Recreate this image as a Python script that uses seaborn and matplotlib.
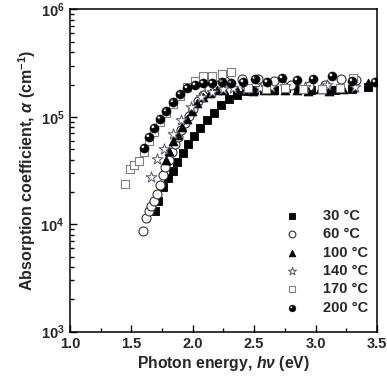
import numpy as np
import pandas as pd
import matplotlib
matplotlib.use("Agg")
import matplotlib.pyplot as plt
import seaborn as sns
from matplotlib.path import Path
from matplotlib.ticker import MultipleLocator, LogLocator, NullFormatter

# ---------------- data ----------------
e30 = [1.69, 1.72, 1.76, 1.795, 1.836, 1.874, 1.918, 1.963, 2.01, 2.061, 2.113, 2.17,
       2.23, 2.292, 2.357, 2.43, 2.50, 2.58, 2.66, 2.76, 2.86, 2.96, 3.06, 3.16, 3.30, 3.43]
a30 = [1.32e4, 1.65e4, 2.22e4, 2.72e4, 3.16e4, 3.78e4, 4.58e4, 5.56e4, 6.6e4, 7.9e4, 9.4e4, 1.09e5,
       1.28e5, 1.48e5, 1.61e5, 1.75e5, 1.78e5, 1.80e5, 1.78e5, 1.85e5, 1.80e5, 1.78e5, 1.80e5, 1.78e5, 1.82e5, 1.88e5]

e60 = [1.597, 1.619, 1.643, 1.662, 1.687, 1.708, 1.73, 1.755, 1.776, 1.808, 1.83, 1.855, 1.88,
       1.904, 1.936, 1.969, 2.0, 2.04, 2.083, 2.13, 2.19, 2.26, 2.40, 2.53, 2.66, 2.80, 2.95,
       3.08, 3.21, 3.33]
a60 = [8.6e3, 1.14e4, 1.34e4, 1.48e4, 1.65e4, 1.93e4, 2.34e4, 2.88e4, 3.44e4, 3.97e4, 4.7e4, 5.6e4, 6.5e4,
       7.6e4, 8.8e4, 1.02e5, 1.18e5, 1.41e5, 1.60e5, 1.82e5, 2.0e5, 2.15e5, 2.25e5, 2.24e5, 2.16e5, 2.0e5, 1.95e5,
       2.0e5, 2.27e5, 2.2e5]

e100 = [1.782, 1.809, 1.841, 1.877, 1.915, 1.955, 1.996, 2.037, 2.086, 2.14, 2.195, 2.254, 2.357,
        2.493, 2.58, 2.656, 2.751, 2.846, 2.941, 3.036, 3.111, 3.22, 3.306, 3.43]
a100 = [4.0e4, 4.84e4, 5.9e4, 6.8e4, 8.0e4, 9.6e4, 1.14e5, 1.34e5, 1.52e5, 1.66e5, 1.78e5, 1.78e5, 1.76e5,
        1.75e5, 1.78e5, 1.77e5, 1.78e5, 1.76e5, 1.75e5, 1.80e5, 1.75e5, 1.80e5, 1.90e5, 2.05e5]

e140 = [1.657, 1.711, 1.765, 1.836, 1.90, 1.983, 2.067, 2.154, 2.243, 2.33, 2.43, 2.55, 2.64,
        2.75, 2.914, 3.095, 3.32]
a140 = [2.74e4, 4.03e4, 5.0e4, 6.9e4, 9.3e4, 1.23e5, 1.52e5, 1.69e5, 1.81e5, 1.85e5, 1.80e5, 1.85e5, 1.90e5,
        1.95e5, 1.89e5, 1.98e5, 1.89e5]

e170 = [1.450, 1.486, 1.524, 1.562, 1.600, 1.641, 1.687, 1.733, 1.782, 1.836, 1.893, 1.953, 2.018,
        2.086, 2.156, 2.235, 2.314, 2.45, 2.60, 2.75, 2.90, 3.05, 3.20, 3.302]
a170 = [2.37e4, 3.25e4, 3.59e4, 3.86e4, 4.68e4, 6.0e4, 7.3e4, 8.9e4, 1.08e5, 1.32e5, 1.57e5, 1.89e5, 2.16e5,
        2.39e5, 2.40e5, 2.53e5, 2.60e5, 1.85e5, 1.82e5, 1.85e5, 1.80e5, 1.83e5, 1.85e5, 2.29e5]

e200 = [1.603, 1.643, 1.686, 1.735, 1.784, 1.839, 1.896, 1.955, 2.018, 2.086, 2.159, 2.235, 2.314,
        2.406, 2.504, 2.604, 2.724, 2.846, 2.981, 3.136, 3.299, 3.484]
a200 = [5.1e4, 6.5e4, 7.9e4, 9.5e4, 1.14e5, 1.38e5, 1.63e5, 1.85e5, 2.0e5, 2.07e5, 2.08e5, 2.11e5, 2.05e5,
        2.10e5, 2.27e5, 2.13e5, 2.32e5, 2.21e5, 2.25e5, 2.42e5, 2.16e5, 2.11e5]

labels = ["30 °C", "60 °C", "100 °C", "140 °C", "170 °C", "200 °C"]
energies = [e30, e60, e100, e140, e170, e200]
alphas = [a30, a60, a100, a140, a170, a200]

df = pd.concat([pd.DataFrame({"E": e, "alpha": a, "T": lab})
                for e, a, lab in zip(energies, alphas, labels)], ignore_index=True)

# ---------------- style ----------------
sns.set_theme(style="white")
plt.rcParams["font.family"] = ["Liberation Sans", "DejaVu Sans"]
plt.rcParams["font.weight"] = "bold"
plt.rcParams["axes.labelweight"] = "bold"
plt.rcParams["mathtext.fontset"] = "custom"
plt.rcParams["mathtext.rm"] = "Liberation Sans:bold"
plt.rcParams["mathtext.bf"] = "Liberation Sans:bold"
plt.rcParams["mathtext.it"] = "Liberation Sans:italic"

# sphere-like marker: black disc with a small highlight (hole) upper-left
t = np.linspace(0, 2 * np.pi, 48)
outer = np.column_stack([np.cos(t), np.sin(t)])
inner = np.column_stack([-0.36 + 0.32 * np.cos(-t), 0.36 + 0.32 * np.sin(-t)])
verts = np.vstack([outer, inner])
codes = ([Path.MOVETO] + [Path.LINETO] * (len(outer) - 2) + [Path.CLOSEPOLY]
         + [Path.MOVETO] + [Path.LINETO] * (len(inner) - 2) + [Path.CLOSEPOLY])
sphere = Path(verts, codes)

styles = {
    "30 °C": dict(marker="s", s=32, color="black", edgecolor="black", linewidth=0.6),
    "60 °C": dict(marker="o", s=42, color="white", edgecolor="#333333", linewidth=0.8),
    "100 °C": dict(marker="^", s=40, color="black", edgecolor="black", linewidth=0.6),
    "140 °C": dict(marker="*", s=66, color="white", edgecolor="#55556a", linewidth=0.7),
    "170 °C": dict(marker="s", s=36, color="white", edgecolor="#808080", linewidth=0.8),
    "200 °C": dict(marker=sphere, s=44, color="black", edgecolor="#222222", linewidth=0.3),
}

fig = plt.figure(figsize=(3.87, 3.79), dpi=100)
ax = fig.add_axes([0.181, 0.125, 0.793, 0.850])

for lab in labels:
    sub = df[df["T"] == lab]
    sns.scatterplot(data=sub, x="E", y="alpha", ax=ax, label=lab, **styles[lab])

ax.set_yscale("log")
ax.set_xlim(1.0, 3.5)
ax.set_ylim(1e3, 1e6)
ax.set_xticks([1.0, 1.5, 2.0, 2.5, 3.0, 3.5])
ax.set_xticklabels(["1.0", "1.5", "2.0", "2.5", "3.0", "3.5"])
ax.xaxis.set_minor_locator(MultipleLocator(0.25))
ax.set_yticks([1e3, 1e4, 1e5, 1e6])
ax.set_yticklabels([r"$\mathbf{10^{3}}$", r"$\mathbf{10^{4}}$", r"$\mathbf{10^{5}}$", r"$\mathbf{10^{6}}$"])
ax.yaxis.set_minor_locator(LogLocator(base=10, subs=np.arange(2, 10)))
ax.yaxis.set_minor_formatter(NullFormatter())

ax.tick_params(which="both", direction="in", top=False, right=False,
               bottom=True, left=True, labelsize=10.5, width=1.0, color="black")
ax.tick_params(which="major", length=5)
ax.tick_params(which="minor", length=3)
ax.tick_params(axis="both", pad=4)

for sp in ax.spines.values():
    sp.set_color("black")
    sp.set_linewidth(1.1)

ax.set_xlabel(r"Photon energy, $h\nu$ (eV)", fontsize=11.3, fontweight="bold", labelpad=2)
ax.set_ylabel(r"Absorption coefficient, $\alpha$ (cm$^{\mathbf{-1}}$)", fontsize=11.5,
              fontweight="bold", labelpad=2)

leg = ax.legend(loc="lower right", bbox_to_anchor=(1.013, 0.012), frameon=False,
                fontsize=10.5, markerscale=0.75, handletextpad=1.6, handlelength=1.0,
                labelspacing=0.3)
for txt in leg.get_texts():
    txt.set_fontweight("bold")

fig.savefig("out.png", dpi=100, facecolor="white")
